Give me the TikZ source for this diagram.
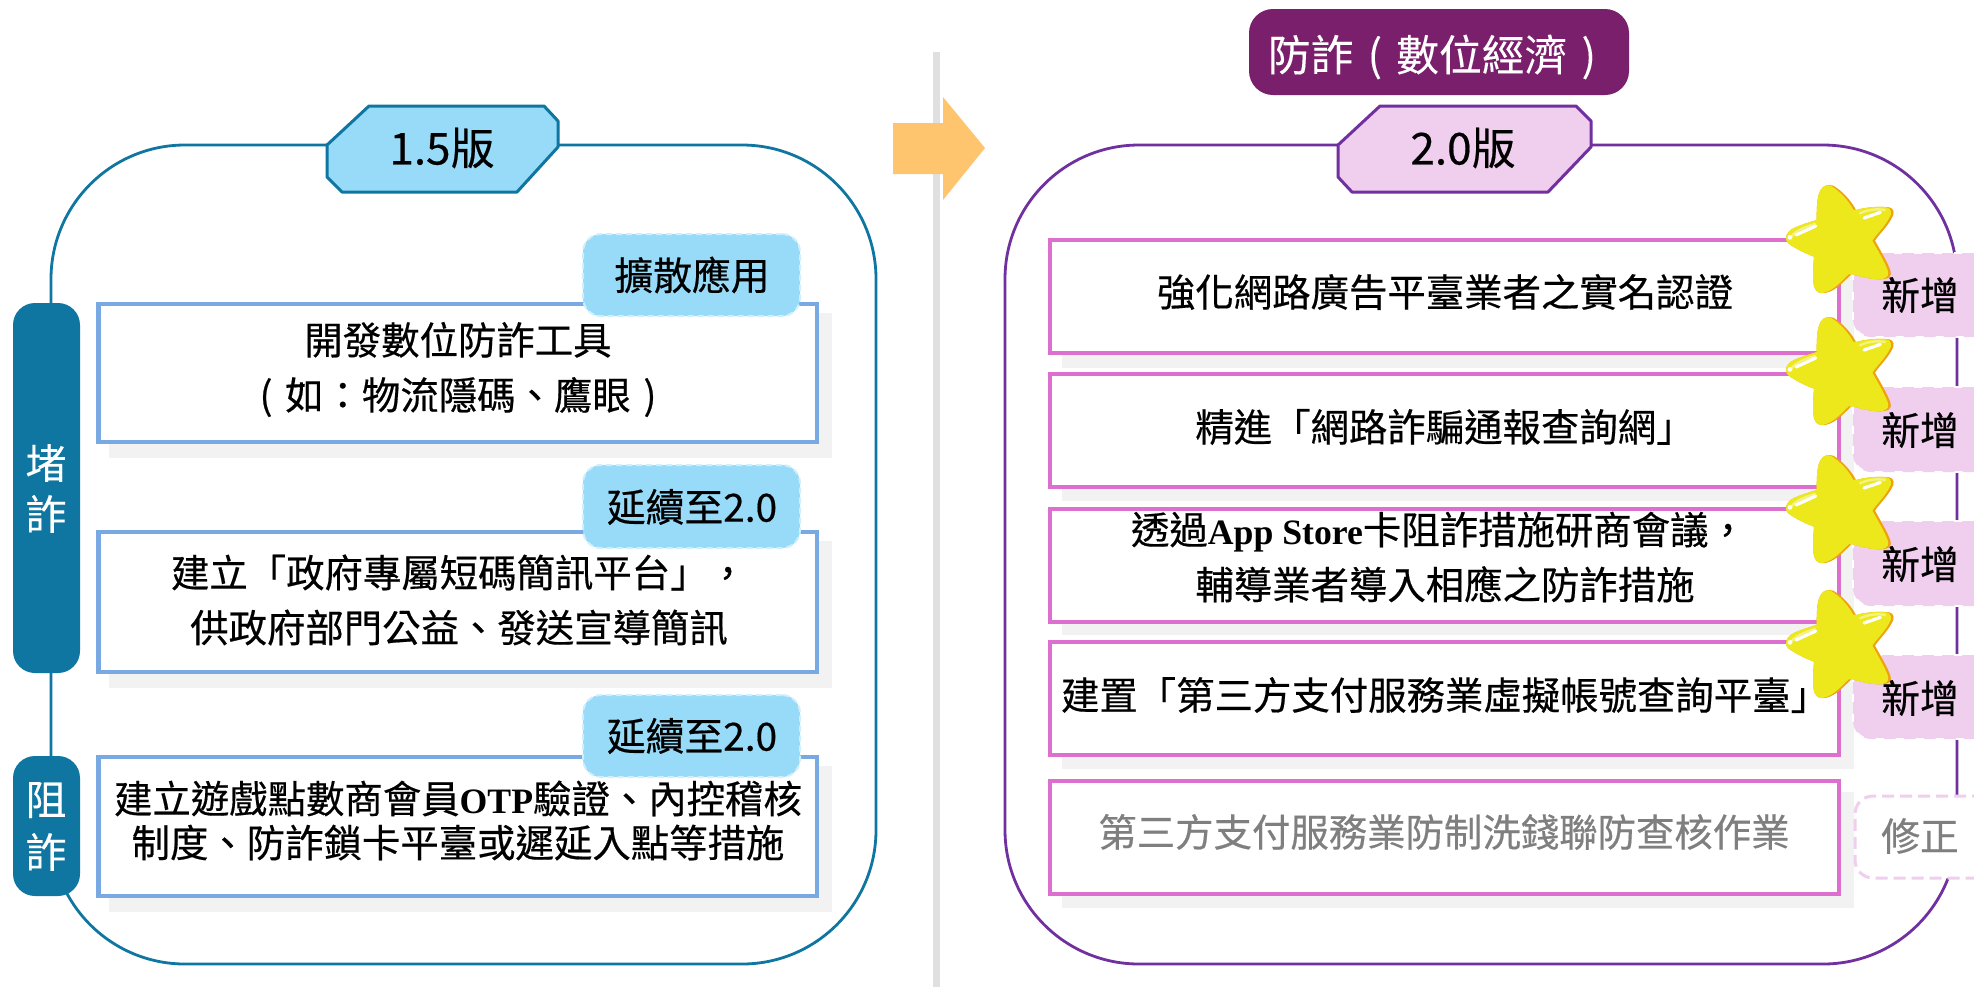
\documentclass[tikz,border=0pt]{standalone}
\usepackage{fontspec}
\setmainfont{Noto Sans CJK TC}[FakeBold=0.45]
\newfontfamily\plaincjk{Noto Sans CJK TC}[FakeBold=0.15]
\newfontfamily\latinserif{Liberation Serif}[BoldFont={Liberation Serif Bold},Scale=0.93]
\definecolor{teal1}{HTML}{0E76A0}
\definecolor{cyan1}{HTML}{97DBF9}
\definecolor{blueline}{HTML}{78A9E2}
\definecolor{purp}{HTML}{7030A0}
\definecolor{pinkfill}{HTML}{F0CEEE}
\definecolor{pinkline}{HTML}{DD6FCF}
\definecolor{plum}{HTML}{7A1F6B}
\definecolor{shade}{HTML}{F2F2F2}
\definecolor{orangearrow}{HTML}{FFC56E}
\definecolor{stary}{HTML}{ECE81C}
\definecolor{staro}{HTML}{EEA30C}
\definecolor{greytext}{HTML}{7F7F7F}
\tikzset{
  panelA/.style={draw=teal1,line width=1.4pt,rounded corners=67pt},
  panelB/.style={draw=purp,line width=1.4pt,rounded corners=67pt},
  hexA/.style={draw=teal1,line width=1.5pt,fill=cyan1,line join=round},
  hexB/.style={draw=purp,line width=1.5pt,fill=pinkfill,line join=round},
  sidebox/.style={fill=teal1,rounded corners=11pt,inner sep=0pt},
  titlebox/.style={fill=plum,rounded corners=12pt,inner sep=0pt},
  bluebox/.style={draw=blueline,fill=white,line width=2.4pt,inner sep=0pt},
  pinkbox/.style={draw=pinkline,fill=white,line width=2.4pt,inner sep=0pt},
  cyantag/.style={fill=cyan1,draw=cyan1!45!white,line width=1pt,dash pattern=on 3pt off 2pt,rounded corners=9pt,inner sep=0pt},
  pinktag/.style={fill=pinkfill,draw=white,line width=.8pt,dash pattern=on 4pt off 6pt,rounded corners=9pt,inner sep=0pt},
  fixtag/.style={fill=white,draw=pinkfill,line width=1.5pt,dash pattern=on 6pt off 3pt,rounded corners=9pt,inner sep=0pt},
  boxshadow/.style={fill=shade},
  bodytxt/.style={align=center,inner sep=0pt,font=\fontsize{19.2}{27.5}\selectfont},
  tagtxt/.style={inner sep=0pt,font=\fontsize{19.4}{24}\selectfont},
  sidetxt/.style={inner sep=0pt,text=white,font=\plaincjk\fontsize{20.5}{24}\selectfont},
  hextxt/.style={inner sep=0pt,font=\fontsize{22}{24}\selectfont},
  titletxt/.style={inner sep=0pt,text=white,font=\plaincjk\fontsize{21.4}{24}\selectfont},
  starmark/.pic={
    \begin{scope}[x=0.16667pt,y=-0.16667pt]
      \def\starpath{(400,107)
        .. controls (430,125) and (455,155) .. (468,180)
        .. controls (495,172) and (540,168) .. (568,172)
        .. controls (582,175) and (585,190) .. (575,205)
        .. controls (558,235) and (535,255) .. (525,272)
        .. controls (540,300) and (565,340) .. (572,365)
        .. controls (575,385) and (558,388) .. (540,388)
        .. controls (510,388) and (480,380) .. (455,372)
        .. controls (430,395) and (410,420) .. (380,428)
        .. controls (350,435) and (340,415) .. (340,395)
        .. controls (338,370) and (340,345) .. (342,320)
        .. controls (315,310) and (285,295) .. (265,280)
        .. controls (250,265) and (260,245) .. (280,235)
        .. controls (300,225) and (325,218) .. (350,210)
        .. controls (350,175) and (350,140) .. (362,120)
        .. controls (370,105) and (385,103) .. (400,107) -- cycle}
      \begin{scope}
        \clip \starpath;
        \fill[staro] (200,50) rectangle (640,480);
        \fill[stary,xshift=-1.3pt] \starpath;
      \end{scope}
      \draw[stary!55!white,line width=1.2pt,line cap=round] (275,258) .. controls (290,240) and (320,230) .. (345,222);
      \draw[stary!55!white,line width=1.2pt,line cap=round] (480,190) .. controls (500,180) and (530,175) .. (555,180);
      \draw[white,line width=1.6pt,line cap=round] (288,255) -- (347,228);
      \draw[white,line width=1.6pt,line cap=round] (492,204) -- (541,187);
      \fill[white] (270,262) circle (1.2pt);
    \end{scope}
  }
}
\newcommand{\pxnode}[7]{%
  \pgfmathsetmacro\mwd{(#5-#3)*0.5}%
  \pgfmathsetmacro\mht{(#6-#4)*0.5}%
  \pgfmathsetmacro\mcx{(#3+#5)/2}%
  \pgfmathsetmacro\mcy{(#4+#6)/2}%
  \node[#1,minimum width=\mwd pt,minimum height=\mht pt] (#2) at (\mcx,\mcy) {#7};}
\newcommand{\latn}[1]{{\latinserif\bfseries #1}}
\newcommand{\lpr}{\makebox[1em][c]{(}}
\newcommand{\rpr}{\makebox[1em][c]{)}}
\begin{document}
\begin{tikzpicture}[x=0.5pt,y=-0.5pt]
\useasboundingbox (0,0) rectangle (1974,987);
\clip (0,0) rectangle (1974,987);
\fill[white] (0,0) rectangle (1974,987);

% divider and arrow
\fill[black!12] (933,52) rectangle (940,987);
\fill[orangearrow] (893,123) -- (943,123) -- (943,97) -- (985,148) -- (943,200) -- (943,174) -- (893,174) -- cycle;

% panels
\draw[panelA] (51,145) rectangle (876,964);
\draw[panelB] (1005,145) rectangle (1957,964);

% hex headers
\draw[hexA] (369,106) -- (544,106) -- (558,121) -- (558,147) -- (517,192) -- (342,192) -- (327,177) -- (327,145) -- cycle;
\node[hextxt] (h15) at (442,148) {1.5版};
\draw[hexB] (1380,106) -- (1576,106) -- (1591,121) -- (1591,147) -- (1548,192) -- (1352,192) -- (1338,177) -- (1338,145) -- cycle;
\node[hextxt] (h20) at (1463,148) {2.0版};
\pxnode{titlebox}{title}{1249}{9}{1629}{95}{}
\node[titletxt] (titlet) at (1439,57) {防詐\lpr 數位經濟\rpr};

% side labels
\pxnode{sidebox}{sideA}{13}{303}{80}{673}{}
\pxnode{sidebox}{sideB}{13}{756}{80}{896}{}
\node[sidetxt] (s1) at (46,463) {堵};
\node[sidetxt] (s2) at (46,514) {詐};
\node[sidetxt] (s3) at (46,800) {阻};
\node[sidetxt] (s4) at (46,852) {詐};

% shadows
\foreach \ya/\yb in {313/458,541/688,766/912}{\fill[boxshadow] (109,\ya) rectangle (832,\yb);}
\foreach \ya/\yb in {251/368,385/501,520/635,653/769,792/908}{\fill[boxshadow] (1062,\ya) rectangle (1854,\yb);}

% left boxes
\pxnode{bluebox}{b1}{98.5}{304}{817}{442}{}
\pxnode{bluebox}{b2}{98.5}{532}{817}{672}{}
\pxnode{bluebox}{b3}{98.5}{757}{817}{896}{}
\node[bodytxt] (t1) at (458,369.5) {開發數位防詐工具\\\lpr 如：物流隱碼、鷹眼\rpr};
\node[bodytxt] (t2) at (459,600) {建立「政府專屬短碼簡訊平台」，\\供政府部門公益、發送宣導簡訊};
\node[bodytxt,font=\fontsize{19.2}{22}\selectfont] (t3) at (458,820.5) {建立遊戲點數商會員\latn{OTP}驗證、內控稽核\\制度、防詐鎖卡平臺或遲延入點等措施};

% left tags
\pxnode{cyantag}{c1}{583}{234}{800}{316}{}
\pxnode{cyantag}{c2}{583}{465}{800}{548}{}
\pxnode{cyantag}{c3}{583}{695}{800}{777}{}
\node[tagtxt] (c1t) at (692,275) {擴散應用};
\node[tagtxt] (c2t) at (692,507) {延續至2.0};
\node[tagtxt] (c3t) at (692,736) {延續至2.0};

% right boxes
\pxnode{pinkbox}{r1}{1050}{240}{1839}{353}{}
\pxnode{pinkbox}{r2}{1050}{374}{1839}{487}{}
\pxnode{pinkbox}{r3}{1050}{509}{1839}{622}{}
\pxnode{pinkbox}{r4}{1050}{642}{1839}{755}{}
\pxnode{pinkbox}{r5}{1050}{781}{1839}{894}{}
\node[bodytxt] (rt1) at (1445,292) {強化網路廣告平臺業者之實名認證};
\node[bodytxt] (rt2) at (1445,427) {精進「網路詐騙通報查詢網」};
\node[bodytxt] (rt3) at (1445,557) {透過\latn{App Store}卡阻詐措施研商會議，\hspace*{6pt}\\輔導業者導入相應之防詐措施};
\node[bodytxt] (rt4) at (1445,695) {建置「第三方支付服務業虛擬帳號查詢平臺」};
\node[bodytxt,text=greytext] (rt5) at (1444,832) {第三方支付服務業防制洗錢聯防查核作業};

% right tags
\pxnode{pinktag}{n1}{1853}{253}{2020}{337}{}
\pxnode{pinktag}{n2}{1853}{387}{2020}{472}{}
\pxnode{pinktag}{n3}{1853}{521}{2020}{606}{}
\pxnode{pinktag}{n4}{1853}{655}{2020}{739}{}
\pxnode{fixtag}{n5}{1855}{796}{2020}{878}{}
\node[tagtxt] (n1t) at (1920,295) {新增};
\node[tagtxt] (n2t) at (1920,430) {新增};
\node[tagtxt] (n3t) at (1920,564) {新增};
\node[tagtxt] (n4t) at (1920,698) {新增};
\node[tagtxt,text=greytext] (n5t) at (1920,836) {修正};

% stars
\pic at (1700,150) {starmark};
\pic at (1700,282) {starmark};
\pic at (1700,420) {starmark};
\pic at (1700,555) {starmark};
\end{tikzpicture}
\end{document}
